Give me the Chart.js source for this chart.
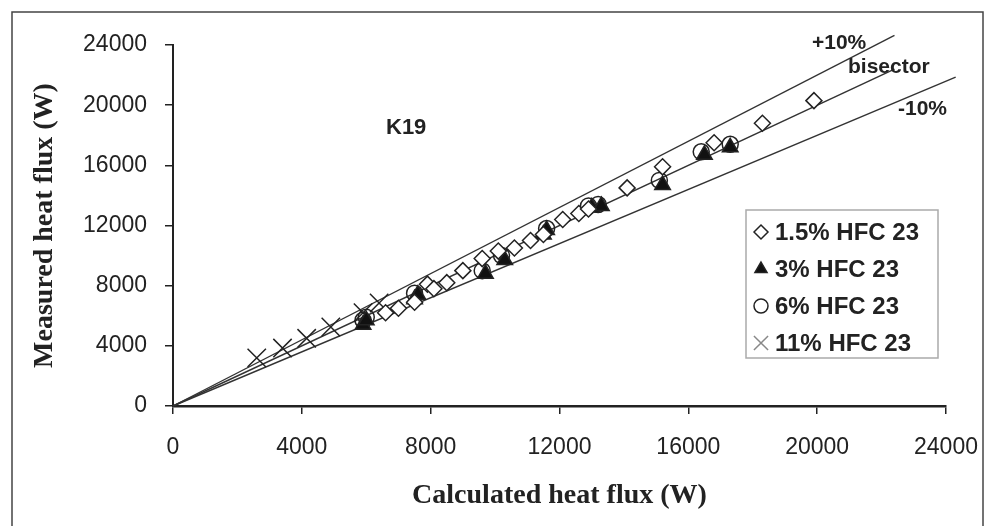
<!DOCTYPE html>
<html>
<head>
<meta charset="utf-8">
<script src="https://cdn.jsdelivr.net/npm/chart.js@4.4.0/dist/chart.umd.min.js"></script>
<style>
body { margin: 0; background: #fff; }
</style>
</head>
<body>
<canvas id="chart" width="988" height="526"></canvas>
<script>
// axis ticks
const tickValues = [0, 4000, 8000, 12000, 16000, 20000, 24000];

// 1.5% HFC 23
const hfc15X = [6600, 7000, 7500, 7900, 8100, 8500, 9000, 9600, 10100, 10600, 11100, 11500, 12100, 12600, 12900, 14100, 15200, 16800, 18300, 19900];
const hfc15Y = [6200, 6500, 6900, 8100, 7800, 8200, 9000, 9800, 10300, 10500, 11000, 11400, 12400, 12800, 13100, 14500, 15900, 17500, 18800, 20300];

// 3% HFC 23
const hfc3X = [5900, 6000, 7500, 7600, 9700, 10300, 11500, 11600, 13000, 13300, 15200, 16500, 17300];
const hfc3Y = [5400, 5700, 7100, 7400, 8800, 9700, 11400, 11700, 13200, 13300, 14700, 16700, 17200];

// 6% HFC 23
const hfc6X = [5900, 6000, 7500, 9600, 10200, 11600, 12900, 13200, 15100, 16400, 17300];
const hfc6Y = [5700, 5900, 7500, 9000, 10000, 11800, 13300, 13400, 15000, 16900, 17400];

// 11% HFC 23
const hfc11X = [2600, 3400, 4150, 4900, 5900, 6400];
const hfc11Y = [3200, 3850, 4500, 5250, 6200, 6850];

// reference lines (end points)
const plus10X = [0, 22400];
const plus10Y = [0, 24640];
const bisectorX = [0, 22400];
const bisectorY = [0, 22400];
const minus10X = [0, 24300];
const minus10Y = [0, 21870];

const pts = (xs, ys) => xs.map((x, i) => ({ x: x, y: ys[i] }));

const inkColor = '#222';

function scatterSet(label, xs, ys, style, radius, fill) {
    return {
        type: 'scatter',
        label: label,
        data: pts(xs, ys),
        pointStyle: style,
        pointRadius: radius,
        pointHoverRadius: radius,
        pointBackgroundColor: fill,
        pointBorderColor: inkColor,
        pointBorderWidth: 1.5,
        inLegend: true,
        clip: false,
    };
}

function refLine(label, xs, ys) {
    return {
        type: 'line',
        label: label,
        data: pts(xs, ys),
        borderColor: '#333',
        borderWidth: 1.4,
        pointRadius: 0,
        fill: false,
        clip: false,
    };
}

const legendBox = {
    id: 'legendBox',
    afterDatasetsDraw(chart) {
        const ctx = chart.ctx;
        ctx.save();
        ctx.fillStyle = '#fff';
        ctx.fillRect(746, 210, 192, 148);
        ctx.strokeStyle = '#aaa';
        ctx.lineWidth = 1.5;
        ctx.strokeRect(746, 210, 192, 148);
        const items = chart.data.datasets.filter(d => d.inLegend);
        items.forEach((ds, i) => {
            const y = 232 + i * 37;
            ctx.fillStyle = ds.pointBackgroundColor;
            ctx.strokeStyle = ds.pointStyle === 'crossRot' ? '#888' : inkColor;
            ctx.lineWidth = 1.5;
            Chart.helpers.drawPoint(ctx, {
                pointStyle: ds.pointStyle,
                radius: ds.pointStyle === 'crossRot' ? 10 : 7,
                rotation: 0,
                borderWidth: 1.5,
            }, 761, y);
            ctx.fillStyle = inkColor;
            ctx.font = 'bold 24px "Liberation Sans"';
            ctx.textBaseline = 'middle';
            ctx.fillText(ds.label, 775, y + 1);
        });
        ctx.restore();
    }
};

const notes = {
    id: 'notes',
    afterDraw(chart) {
        const ctx = chart.ctx;
        ctx.save();
        ctx.fillStyle = inkColor;
        ctx.textBaseline = 'middle';
        ctx.font = 'bold 22px "Liberation Sans"';
        ctx.fillText('K19', 386, 128);
        ctx.font = 'bold 21px "Liberation Sans"';
        ctx.fillText('+10%', 812, 43);
        ctx.fillText('bisector', 848, 67);
        ctx.fillText('-10%', 898, 109);
        // outer frame of the figure
        ctx.strokeStyle = '#444';
        ctx.lineWidth = 1.5;
        ctx.strokeRect(12, 12, 971, 530);
        ctx.restore();
    }
};

const axisFont = { family: 'Liberation Sans', size: 23 };
const titleFont = { family: 'Liberation Serif', size: 28, weight: 'bold' };

new Chart(document.getElementById('chart'), {
    type: 'scatter',
    data: {
        datasets: [
            scatterSet('1.5% HFC 23', hfc15X, hfc15Y, 'rectRot', 8, '#fff'),
            scatterSet('3% HFC 23', hfc3X, hfc3Y, 'triangle', 9, '#111'),
            scatterSet('6% HFC 23', hfc6X, hfc6Y, 'circle', 8, 'rgba(255,255,255,0)'),
            scatterSet('11% HFC 23', hfc11X, hfc11Y, 'crossRot', 13, 'rgba(255,255,255,0)'),
            refLine('+10%', plus10X, plus10Y),
            refLine('bisector', bisectorX, bisectorY),
            refLine('-10%', minus10X, minus10Y),
        ],
    },
    options: {
        responsive: false,
        animation: false,
        layout: { padding: { left: 0, top: 45, right: 42, bottom: 0 } },
        plugins: {
            legend: { display: false },
            tooltip: { enabled: false },
        },
        scales: {
            x: {
                type: 'linear',
                min: 0,
                max: 24000,
                afterBuildTicks: scale => { scale.ticks = tickValues.map(v => ({ value: v })); },
                afterFit: scale => {
                    scale.height = 120;
                    scale.paddingLeft = 0;
                    scale.paddingRight = 0;
                },
                ticks: { font: axisFont, color: inkColor, padding: 20, maxRotation: 0, callback: v => String(v) },
                grid: { display: true, drawOnChartArea: false, drawTicks: true, tickLength: 8, color: inkColor, lineWidth: 1.5 },
                border: { display: true, color: inkColor, width: 2.5 },
                title: {
                    display: true,
                    text: 'Calculated heat flux (W)',
                    font: titleFont,
                    color: inkColor,
                    padding: { top: 0, bottom: 13 },
                },
            },
            y: {
                type: 'linear',
                min: 0,
                max: 24000,
                afterBuildTicks: scale => { scale.ticks = tickValues.map(v => ({ value: v })); },
                afterFit: scale => { scale.width = 173; },
                ticks: { font: axisFont, color: inkColor, padding: 18, callback: v => String(v) },
                grid: { display: true, drawOnChartArea: false, drawTicks: true, tickLength: 8, color: inkColor, lineWidth: 1.5 },
                border: { display: true, color: inkColor, width: 2 },
                title: {
                    display: true,
                    text: 'Measured heat flux (W)',
                    font: titleFont,
                    color: inkColor,
                    padding: { top: 28, bottom: 0 },
                },
            },
        },
    },
    plugins: [legendBox, notes],
});
</script>
</body>
</html>
